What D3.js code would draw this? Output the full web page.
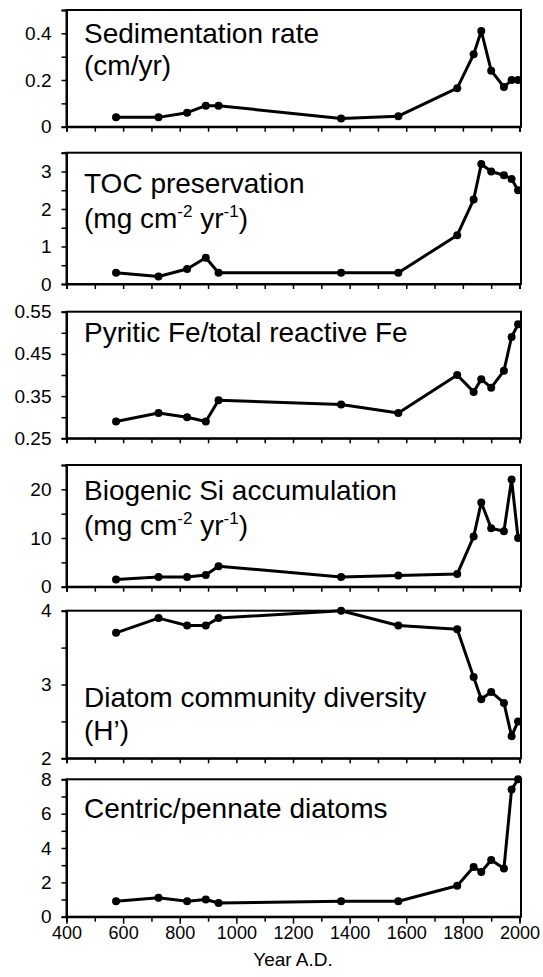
<!DOCTYPE html>
<head>
  <meta charset="utf-8">
  <script src="https://d3js.org/d3.v7.min.js"></script>
  <style>
    body { margin:0; background:#fff; }
    text { font-family: "Liberation Sans", Arial, sans-serif; fill:#000; }
  </style>
</head>
<body>
<script>
// sampling years (shared by all six records)
const years = [575, 725, 826, 892, 937, 1370, 1572, 1780, 1838, 1865, 1900, 1945, 1972, 1995];

const sedRate   = [0.04, 0.04, 0.06, 0.09, 0.09, 0.035, 0.045, 0.165, 0.31, 0.41, 0.24, 0.17, 0.2, 0.2];
const tocPres   = [0.3, 0.2, 0.4, 0.7, 0.3, 0.3, 0.3, 1.3, 2.25, 3.2, 3.0, 2.9, 2.8, 2.5];
const pyriticFe = [0.29, 0.31, 0.30, 0.29, 0.34, 0.33, 0.31, 0.40, 0.36, 0.39, 0.37, 0.41, 0.49, 0.52];
const bioSi     = [1.5, 2.0, 2.0, 2.4, 4.2, 2.0, 2.3, 2.6, 10.3, 17.3, 12.0, 11.4, 22.0, 10.0];
const diversity = [3.7, 3.9, 3.8, 3.8, 3.9, 4.0, 3.8, 3.75, 3.1, 2.8, 2.9, 2.75, 2.3, 2.5];
const centric   = [0.9, 1.1, 0.9, 1.0, 0.8, 0.9, 0.9, 1.8, 2.9, 2.6, 3.3, 2.8, 7.4, 8.0];

// titles: each line is a list of [text, superscript?]
const titles = [
  [[["Sedimentation rate"]], [["(cm/yr)"]]],
  [[["TOC preservation"]], [["(mg cm"], ["-2", 1], [" yr"], ["-1", 1], [")"]]],
  [[["Pyritic Fe/total reactive Fe"]]],
  [[["Biogenic Si accumulation"]], [["(mg cm"], ["-2", 1], [" yr"], ["-1", 1], [")"]]],
  [[["Diatom community diversity"]], [["(H\u2019)"]]],
  [[["Centric/pennate diatoms"]]]
];

const yDomains = [[0, 0.5], [0, 3.5], [0.25, 0.55], [0, 25], [2, 4], [0, 8]];
const yLabels  = [[0, 0.2, 0.4], [0, 1, 2, 3], [0.25, 0.35, 0.45, 0.55], [0, 10, 20], [2, 3, 4], [0, 2, 4, 6, 8]];
const yMinor   = [0.1, 0.5, 0.05, 5, 0.5, 1];
const yFormats = [d3.format(".1~f"), d3.format("d"), d3.format(".2f"), d3.format("d"), d3.format("d"), d3.format("d")];
const xLabels  = [400, 600, 800, 1000, 1200, 1400, 1600, 1800, 2000];
const series   = [sedRate, tocPres, pyriticFe, bioSi, diversity, centric];

// layout
const W = 543, H = 977;
const panelTop    = [10, 152.7, 311.7, 465, 610.7, 779.3];
const panelBottom = [126.7, 284, 438.3, 586.7, 758.3, 916.7];
const titleBase   = [[43, 75], [193, 228], [342], [500, 535], [707, 740], [818]];

const svg = d3.select("body").append("svg")
    .attr("width", W)
    .attr("height", H);

const x = d3.scaleLinear().domain([400, 2000]).range([66.5, 519.5]);

series.forEach(function (vals, i) {
  const y = d3.scaleLinear().domain(yDomains[i]).range([panelBottom[i], panelTop[i]]);
  const g = svg.append("g");
  const last = i === series.length - 1;

  // frame
  g.append("rect")
      .attr("x", x.range()[0]).attr("y", panelTop[i])
      .attr("width", x.range()[1] - x.range()[0] + 1.5)
      .attr("height", panelBottom[i] - panelTop[i])
      .attr("fill", "none").attr("stroke", "#000").attr("stroke-width", 2);

  // y ticks (every minor step), labels on the major ones
  const [y0, y1] = yDomains[i];
  const yTicks = d3.range(0, Math.round((y1 - y0) / yMinor[i]) + 1).map(k => +(y0 + k * yMinor[i]).toFixed(4));
  const yAxis = d3.axisLeft(y)
      .tickValues(yTicks)
      .tickSize(5)
      .tickPadding(10)
      .tickFormat(d => yLabels[i].some(v => Math.abs(v - d) < 1e-6) ? yFormats[i](d) : "");
  const ya = g.append("g").attr("transform", `translate(${x.range()[0]},0)`).call(yAxis);
  ya.select(".domain").attr("stroke-width", 2);
  ya.selectAll(".tick line").attr("stroke-width", 1.5);
  ya.selectAll(".tick text").attr("font-size", 19).attr("font-family", "Liberation Sans, Arial, sans-serif");

  // x ticks every 100 years
  const xAxis = d3.axisBottom(x)
      .tickValues(d3.range(400, 2001, 100))
      .tickSize(5)
      .tickPadding(5)
      .tickFormat(d => (last && xLabels.includes(d)) ? d : "");
  const xa = g.append("g").attr("transform", `translate(0,${panelBottom[i]})`).call(xAxis);
  xa.select(".domain").attr("stroke-width", 2);
  xa.selectAll(".tick line").attr("stroke-width", 1.5)
      .attr("y2", d => (last && d % 200 === 0) ? 7 : 5);
  xa.selectAll(".tick text").attr("font-size", 18).attr("font-family", "Liberation Sans, Arial, sans-serif");

  // series line + dots
  const pts = years.map((yr, k) => [yr, vals[k]]);
  g.append("path")
      .datum(pts)
      .attr("fill", "none")
      .attr("stroke", "#000")
      .attr("stroke-width", 3)
      .attr("stroke-linejoin", "round")
      .attr("d", d3.line().x(d => x(d[0])).y(d => y(d[1])));
  g.selectAll("circle.pt")
      .data(pts)
      .enter().append("circle")
      .attr("class", "pt")
      .attr("cx", d => x(d[0]))
      .attr("cy", d => y(d[1]))
      .attr("r", 4)
      .attr("fill", "#000");

  // title
  titles[i].forEach(function (line, li) {
    const t = g.append("text")
        .attr("x", 84)
        .attr("y", titleBase[i][li])
        .attr("font-size", 28);
    line.forEach(function (seg, si) {
      if (seg[1]) {
        t.append("tspan").attr("font-size", 17).attr("dy", -11).text(seg[0]);
      } else {
        const ts = t.append("tspan").text(seg[0]);
        // come back down after a superscript
        if (si > 0 && line[si - 1][1]) ts.attr("dy", 11);
      }
    });
  });
});

svg.append("text")
    .attr("x", (x.range()[0] + x.range()[1]) / 2)
    .attr("y", 966)
    .attr("text-anchor", "middle")
    .attr("font-size", 19)
    .text("Year A.D.");
</script>
</body>
